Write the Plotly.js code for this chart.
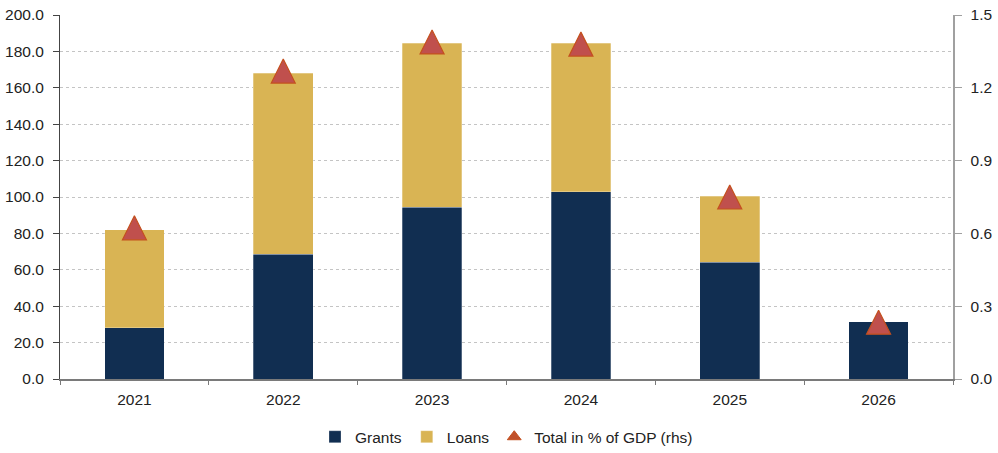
<!DOCTYPE html>
<html>
<head>
<meta charset="utf-8">
<script src="https://cdn.plot.ly/plotly-3.0.1.min.js"></script>
<style>html,body{margin:0;padding:0;background:#fff;}#chart{width:998px;height:453px;}</style>
</head>
<body>
<div id="chart"></div>
<script>
var years = ['2021', '2022', '2023', '2024', '2025', '2026'];
var grants = [28.2, 68.5, 94.3, 102.9, 64.1, 31.5];
var loans = [53.7, 99.5, 90.3, 81.5, 36.4, 0];
var totalPctGdp = [0.623, 1.269, 1.389, 1.380, 0.750, 0.234];
var leftTicks = [0, 20, 40, 60, 80, 100, 120, 140, 160, 180, 200];
var rightTicks = [0, 0.3, 0.6, 0.9, 1.2, 1.5];

var FONT = 'Liberation Sans, Arial, sans-serif';
var FS = 15.5;
var RED = '#C0504D', REDLINE = '#C4501E';
var traces = [
  {type: 'bar', name: 'Grants', x: years, y: grants,
   marker: {color: '#112E51', line: {color: 'rgba(255,255,255,0.45)', width: 0.6}}, hoverinfo: 'none'},
  {type: 'bar', name: 'Loans', x: years, y: loans,
   marker: {color: '#D9B454', line: {color: 'rgba(255,255,255,0.45)', width: 0.6}}, hoverinfo: 'none'},
  {type: 'scatter', mode: 'markers', name: 'Total in % of GDP (rhs)', x: years, y: totalPctGdp, yaxis: 'y2',
   showlegend: false,
   marker: {symbol: 'arrow-down', angle: 180, standoff: 12, size: 24, color: RED, line: {color: REDLINE, width: 1.2}},
   hoverinfo: 'none'},
  {type: 'scatter', mode: 'markers', name: 'Total in % of GDP (rhs)', x: [null], y: [null], yaxis: 'y2',
   showlegend: true,
   marker: {symbol: 'triangle-up', size: 12, color: '#C0502A', line: {color: REDLINE, width: 1}},
   hoverinfo: 'none'}
];
var layout = {
  width: 998, height: 453,
  margin: {l: 60, r: 45, t: 15, b: 74, autoexpand: false},
  paper_bgcolor: '#fff', plot_bgcolor: '#fff',
  barmode: 'stack', bargap: 0.6,
  font: {family: FONT, size: FS, color: '#222'},
  showlegend: true,
  legend: {orientation: 'h', x: 0.5, xanchor: 'center', yref: 'container', y: 0.035, yanchor: 'middle',
           font: {family: FONT, size: FS, color: '#222'}, itemwidth: 30, tracegroupgap: 0,
           traceorder: 'normal'},
  xaxis: {type: 'category', showline: true, linecolor: '#7a7a7a', linewidth: 2, automargin: false,
          ticks: 'outside', tickson: 'boundaries', ticklen: 4, tickcolor: '#7a7a7a', ticklabelstandoff: 5,
          showgrid: false, zeroline: false, tickfont: {size: FS, color: '#222'}},
  yaxis: {range: [0, 200], tickvals: leftTicks, tickformat: '.1f', showline: true, linecolor: '#444', linewidth: 1,
          automargin: false,
          ticks: 'outside', ticklen: 6, tickcolor: '#444', showgrid: true, gridcolor: '#c4c4c4', griddash: 'dot',
          gridwidth: 1, zeroline: false, ticklabelstandoff: 6, tickfont: {size: FS, color: '#222'}},
  yaxis2: {range: [0, 1.5], tickvals: rightTicks, tickformat: '.1f', overlaying: 'y', side: 'right',
           automargin: false,
           showline: true, linecolor: '#a0a0a0', linewidth: 1.5, ticks: 'outside', ticklen: 7, tickcolor: '#a0a0a0',
           showgrid: false, zeroline: false, ticklabelstandoff: 6, tickfont: {size: FS, color: '#222'}}
};
Plotly.newPlot('chart', traces, layout, {displayModeBar: false, staticPlot: true});
</script>
</body>
</html>
